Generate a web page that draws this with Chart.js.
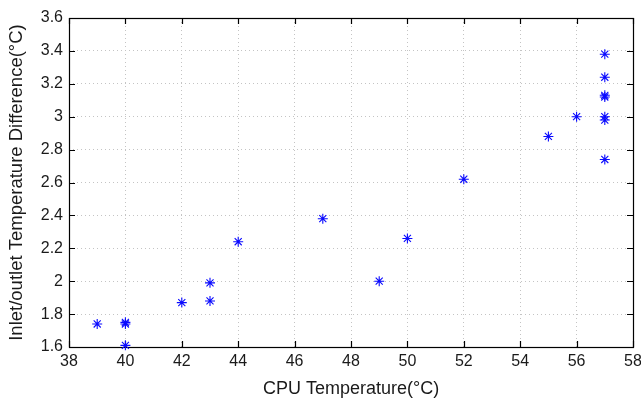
<!DOCTYPE html>
<html>
<head>
<meta charset="utf-8">
<script src="https://cdn.jsdelivr.net/npm/chart.js@4.4.0/dist/chart.umd.min.js"></script>
<style>
  html, body { margin: 0; padding: 0; background: #fff; }
  #wrap { width: 641px; height: 398px; position: relative; }
</style>
</head>
<body>
<div id="wrap"><canvas id="chart"></canvas></div>
<script>
'use strict';

// ---- Measurements: CPU temperature vs inlet/outlet difference ----
const cpuTemp  = [39,   40,   40,   40,   42,   43,   43,   44,   47,   49,   50,   52,   55,   56,   57,   57,   57,   57,   57,   57,   57];
const tempDiff = [1.74, 1.74, 1.75, 1.61, 1.87, 1.99, 1.88, 2.24, 2.38, 2.00, 2.26, 2.62, 2.88, 3.00, 3.38, 3.24, 3.12, 3.13, 3.00, 2.98, 2.74];

// ---- Axis ticks ----
const xTickLabels = ['38', '40', '42', '44', '46', '48', '50', '52', '54', '56', '58'];
const yTickLabels = ['1.6', '1.8', '2', '2.2', '2.4', '2.6', '2.8', '3', '3.2', '3.4', '3.6'];

const FONT = "'Liberation Sans', Arial, Helvetica, sans-serif";
const TEXT = '#1a1a1a';
const GRID = '#c4c4c4';
const MARKER = '#0a0aff';

// Box around the plot with short inward tick marks on every side
const axesBox = {
  id: 'axesBox',
  beforeDatasetsDraw(chart) {
    const { ctx, chartArea: a, scales: { x, y } } = chart;
    const len = 6;
    ctx.save();
    ctx.strokeStyle = '#000';
    ctx.lineWidth = 1.2;
    ctx.beginPath();
    x.ticks.forEach(t => {
      const px = Math.round(x.getPixelForValue(t.value)) + 0.5;
      ctx.moveTo(px, a.bottom); ctx.lineTo(px, a.bottom - len);
      ctx.moveTo(px, a.top);    ctx.lineTo(px, a.top + len);
    });
    y.ticks.forEach(t => {
      const py = Math.round(y.getPixelForValue(t.value)) + 0.5;
      ctx.moveTo(a.left, py);  ctx.lineTo(a.left + len, py);
      ctx.moveTo(a.right, py); ctx.lineTo(a.right - len, py);
    });
    ctx.stroke();
    ctx.strokeRect(Math.round(a.left) + 0.5, Math.round(a.top) + 0.5,
                   Math.round(a.right - a.left), Math.round(a.bottom - a.top));
    ctx.restore();
  }
};

const points = cpuTemp.map((t, i) => ({ x: t, y: tempDiff[i] }));

new Chart(document.getElementById('chart'), {
  type: 'scatter',
  data: {
    datasets: [{
      data: points,
      pointStyle: 'star',
      pointRadius: 5,
      pointBorderWidth: 1.1,
      borderColor: MARKER,
      backgroundColor: MARKER,
      clip: false,
    }]
  },
  options: {
    responsive: true,
    maintainAspectRatio: false,
    animation: false,
    layout: { padding: { top: 18, right: 8, left: 0, bottom: 0 } },
    plugins: {
      legend: { display: false },
      tooltip: { enabled: false },
    },
    scales: {
      x: {
        type: 'linear',
        min: 38, max: 58,
        ticks: {
          stepSize: 2,
          padding: 5,
          color: TEXT,
          font: { family: FONT, size: 16 },
          maxRotation: 0,
          callback: (v, i) => xTickLabels[i],
        },
        grid: { color: GRID, lineWidth: 1, drawTicks: false },
        border: { display: false, dash: [1, 3] },
        title: {
          display: true,
          text: 'CPU Temperature(°C)',
          color: TEXT,
          font: { family: FONT, size: 18, lineHeight: 1 },
          padding: { top: 0, bottom: 0 },
        },
        afterFit: s => { s.height = 51; s.paddingLeft = 0; s.paddingRight = 0; },
      },
      y: {
        type: 'linear',
        min: 1.6, max: 3.6,
        ticks: {
          stepSize: 0.2,
          padding: 6,
          color: TEXT,
          font: { family: FONT, size: 16 },
          callback: (v, i) => yTickLabels[i],
        },
        grid: { color: GRID, lineWidth: 1, drawTicks: false },
        border: { display: false, dash: [1, 3] },
        title: {
          display: true,
          text: 'Inlet/outlet Temperature Difference(°C)',
          color: TEXT,
          font: { family: FONT, size: 18.5, lineHeight: 1 },
          padding: { top: 8, bottom: 0 },
        },
        afterFit: s => { s.width = 69; s.paddingTop = 0; s.paddingBottom = 0; },
      },
    },
  },
  plugins: [axesBox],
});
</script>
</body>
</html>
